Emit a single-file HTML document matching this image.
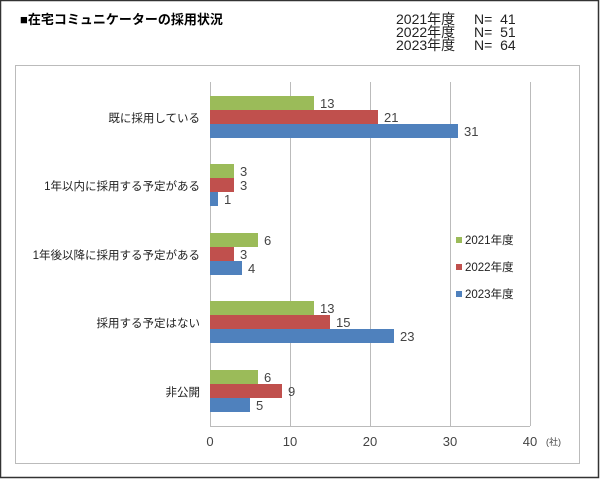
<!DOCTYPE html>
<html><head><meta charset="utf-8"><style>
body{margin:0;width:600px;height:479px;background:#fff;overflow:hidden}
svg text{font-family:"Liberation Sans","Noto Sans CJK JP",sans-serif}
</style></head><body>
<svg width="600" height="479" xmlns="http://www.w3.org/2000/svg">
<rect x="0.5" y="0.5" width="598" height="477" fill="#fff" stroke="#333" stroke-width="1.5"/>
<text x="20" y="24" font-size="13" font-weight="bold" fill="#000">■在宅コミュニケーターの採用状況</text>
<g font-size="14" fill="#222">
<text x="396" y="24">2021年度</text><text x="396" y="37">2022年度</text><text x="396" y="50">2023年度</text>
<text x="474" y="24">N=&#160;&#160;41</text><text x="474" y="37">N=&#160;&#160;51</text><text x="474" y="50">N=&#160;&#160;64</text>
</g>
<rect x="15.5" y="65.5" width="564" height="398" fill="#fff" stroke="#bbb"/>
<g stroke="#bbb" stroke-width="1">
<line x1="290.5" y1="82" x2="290.5" y2="426"/><line x1="370.5" y1="82" x2="370.5" y2="426"/>
<line x1="450.5" y1="82" x2="450.5" y2="426"/><line x1="530.5" y1="82" x2="530.5" y2="426"/>
<line x1="210.5" y1="82" x2="210.5" y2="426"/><line x1="210" y1="426.5" x2="530" y2="426.5"/>
</g>
<g font-size="13" fill="#444">
<text x="210" y="446" text-anchor="middle">0</text><text x="290" y="446" text-anchor="middle">10</text>
<text x="370" y="446" text-anchor="middle">20</text><text x="450" y="446" text-anchor="middle">30</text>
<text x="530" y="446" text-anchor="middle">40</text><text x="546" y="445" font-size="9">(社)</text>
</g>
<g font-size="11.5" fill="#222">
<rect x="456" y="237" width="6" height="6" fill="#9bbb59"/><text x="465" y="244">2021年度</text>
<rect x="456" y="264" width="6" height="6" fill="#c0504d"/><text x="465" y="271">2022年度</text>
<rect x="456" y="291" width="6" height="6" fill="#4f81bd"/><text x="465" y="298">2023年度</text>
</g>
<g font-size="11.5" fill="#222" text-anchor="end">
<text x="200" y="122">既に採用している</text>
<text x="200" y="190">1年以内に採用する予定がある</text>
<text x="200" y="259">1年後以降に採用する予定がある</text>
<text x="200" y="327">採用する予定はない</text>
<text x="200" y="396">非公開</text>
</g>
<g font-size="13" fill="#444">
<rect x="210" y="96" width="104" height="14" fill="#9bbb59"/><text x="320" y="108">13</text>
<rect x="210" y="110" width="168" height="14" fill="#c0504d"/><text x="384" y="122">21</text>
<rect x="210" y="124" width="248" height="14" fill="#4f81bd"/><text x="464" y="136">31</text>
<rect x="210" y="164" width="24" height="14" fill="#9bbb59"/><text x="240" y="176">3</text>
<rect x="210" y="178" width="24" height="14" fill="#c0504d"/><text x="240" y="190">3</text>
<rect x="210" y="192" width="8" height="14" fill="#4f81bd"/><text x="224" y="204">1</text>
<rect x="210" y="233" width="48" height="14" fill="#9bbb59"/><text x="264" y="245">6</text>
<rect x="210" y="247" width="24" height="14" fill="#c0504d"/><text x="240" y="259">3</text>
<rect x="210" y="261" width="32" height="14" fill="#4f81bd"/><text x="248" y="273">4</text>
<rect x="210" y="301" width="104" height="14" fill="#9bbb59"/><text x="320" y="313">13</text>
<rect x="210" y="315" width="120" height="14" fill="#c0504d"/><text x="336" y="327">15</text>
<rect x="210" y="329" width="184" height="14" fill="#4f81bd"/><text x="400" y="341">23</text>
<rect x="210" y="370" width="48" height="14" fill="#9bbb59"/><text x="264" y="382">6</text>
<rect x="210" y="384" width="72" height="14" fill="#c0504d"/><text x="288" y="396">9</text>
<rect x="210" y="398" width="40" height="14" fill="#4f81bd"/><text x="256" y="410">5</text>
</g>
</svg>
</body></html>
